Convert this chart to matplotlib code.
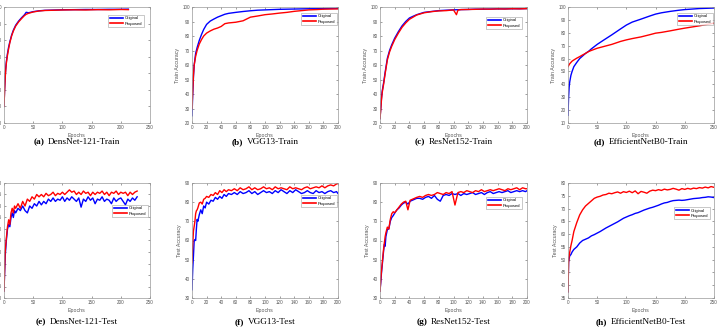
import matplotlib
matplotlib.use("Agg")
import matplotlib.pyplot as plt
import numpy as np

# ---------------- data ----------------
a_ep = [0,1,2,3,4,6,8,10,13,16,20,25,30,35,38,42,50,60,70,80,100,120,140,160,180,200,213]
a_orig = [40,50,58,63,67,72,76,79,83,86,89,91.5,93.5,95.3,96.8,96.5,97.2,97.7,98,98.1,98.3,98.4,98.5,98.5,98.6,98.6,98.7]
a_prop = [40,49,57,62,66,71,75,78.5,82.5,85.5,88.5,91,93,94.8,95.6,96.2,97,97.6,97.9,98,98.2,98.3,98.2,98.4,98.3,98.5,98.4]

b_ep = [0,1,2,3,5,7,10,13,16,20,25,30,35,40,45,50,60,70,80,90,100,110,120,130,140,150,160,170,180,190,200]
b_orig = [25,40,52,60,68,72,77,81,84.5,88,90.3,91.7,93,94,95,95.6,96.3,96.9,97.4,97.8,98,98.2,98.4,98.5,98.6,98.7,98.8,98.8,98.9,99,99]
b_prop = [30,42,53,60,66,70,74.5,77.5,80,82,83.5,84.7,85.5,86.6,88.5,89,89.5,90.5,93,93.8,94.7,95.2,95.8,96.3,97,97.5,98,98.2,98.5,98.6,98.7]

c_ep = [0,1,2,3,5,7,10,13,16,20,25,30,35,40,45,50,60,70,80,90,100,104,106,110,120,130,140,150,160,170,180,190,200]
c_orig = [23,30,37,42,48,55,64.6,70,74,78.5,83,87,90,92.4,93.6,94.7,96.3,96.9,97.5,97.8,98,98.1,98.1,98.2,98.3,98.5,98.5,98.6,98.7,98.7,98.8,98.8,98.9]
c_prop = [23,29,36,41,47,54,63.5,69,73,77.5,82,86,89,91.5,93,94.5,96,96.8,97.3,97.5,98,94.7,97.8,98.2,98.3,98.4,98.6,98.5,98.7,98.6,98.8,98.7,98.9]

d_ep = [0,1,2,3,5,7,10,15,20,25,30,35,40,50,60,75,90,100,110,125,140,150,160,175,190,200,225,250]
d_orig = [16,30,38,42,47,50,53.7,57,60,62,64,65.5,67.5,71,74,78.4,83,86,88.3,90.6,93,94.5,95.5,96.6,97.5,98,98.8,99.2]
d_prop = [53.7,54.5,55.3,56,57,58,58.9,60.3,61.5,62.8,64,65.4,66.3,68,69.2,71,73.3,74.5,75.5,76.8,78.5,79.7,80.3,81.5,82.8,83.6,85.4,87.5]

e_ep = [0,2,4,6,8,10,12,14,16,18,20,
        24,28,32,36,40,44,48,52,56,60,64,68,72,76,80,84,88,92,96,100,
        104,108,112,116,120,124,128,132,136,140,144,148,152,156,160,164,
        168,172,176,180,184,188,192,196,200,204,208,212,216,220,224,228]
e_orig = [43,58,65,70,72,71,75,77,75,78,77,
          79,78,80,78,77,80,79,81,80,82,80.5,82,81,83,82,83.5,82,83,82.5,84,
          82,83.5,82.5,84,83,82,83.5,79.5,83,82,84,82.5,83.5,81,83,82.5,
          84,82,83,82.5,81,83.5,82,83,83.5,82,80.5,83,82,83.5,82.5,84]
e_prop = [43,60,66,71,74,72,77,79,77,80,79,
          81,79,82,80,83,82,84,83,85,84,85,84,85.5,84.5,85,86,84.5,85.5,85,86,
          85,86,87,86,86.5,85,86,85,86.5,85.5,86,84.5,86,85,86,85.5,
          86.5,85,86,84.5,86,85.5,86.5,85,86,85.5,86,84.5,86,85,86,86.5]

f_ep = [0,1,2,3,4,5,6,7,8,10,12,14,16,18,20,
        23,26,29,32,35,38,41,44,47,50,
        54,58,62,66,70,74,78,82,86,90,94,98,102,106,110,114,118,122,126,
        130,134,138,142,146,150,154,158,162,166,170,174,178,182,186,190,194,198,200]
f_orig = [34.3,45,52,60,60.5,60,66,71,70,73.5,76,74,78,77,80,
          79,81,80.5,82.5,81.5,83,82,84,83,84.5,
          84,85,84,85.5,84.5,85,86,84.5,85.5,84,85,86,85,85.5,84.5,86,85,86.5,85.5,
          84.5,86,85,86.5,85.5,84.5,85,86,85,84.5,86,85,85.5,84.5,85.5,86,85,85.5,84.5]
f_prop = [48.3,58,65,67.4,70,74,75.5,76,77,79.6,80,79,81.5,82,83,
          82.5,84,83.5,85,84,86,85,86.5,85.5,86.5,
          86,87,86,87.5,86.5,87,88,86.5,87.5,86.5,87,88,87,87.5,86.5,88,87,87.5,87,
          86.5,88,87,87.5,87,86.5,87.5,88,87,87.5,88,87.5,88.5,87.5,88.5,89,88.5,89.5,89.7]

g_ep = f_ep
g_orig = [33.5,38,43,47,51,55,58,57,62,65.7,66,70,72,73,74.3,
          76,77,78.5,79.5,80,79,80.5,81,81.5,82,
          82,81.5,82.5,83,82,83.5,81.5,80.5,83.5,84,83.5,84.5,84,84.5,83.5,84.5,84,84.5,85,
          84,84.5,85,84,85,85.5,84.5,85,85.5,85,85.5,86,85,85.5,86,85.5,86,85.5,86]
g_prop = [33.5,39,44,48,52,56,59,62,64,67,66,71,74,75,74.5,
          76,77.5,79,80,80.5,76,81,81.5,82,82.5,
          83,82.5,83.5,84,83.5,84,85,84.5,84,85,84.5,85.5,78.5,85,85.5,85,86,85.5,85,
          86,85.5,86.5,85.5,86,86.5,86,86.5,87,86.5,86,87,86.5,87,87.5,86.5,87.5,87,87]

h_ep = [0,1,2,3,5,7,10,15,20,25,30,35,40,45,50,55,60,65,70,75,80,85,90,95,100,
        105,110,115,120,125,130,135,140,145,150,155,160,165,170,175,180,185,190,195,200,
        205,210,215,220,225,230,235,240,245,250]
h_orig = [37.4,49,50.5,51.5,52,53,54,55,56.5,57.5,58,58.5,59.3,59.8,60.4,61,61.7,62.4,63,63.6,64.2,64.8,65.5,66.2,66.7,
          67.2,67.6,68.1,68.4,68.9,69.4,69.8,70.2,70.5,70.9,71.3,71.8,72.2,72.4,72.8,73.1,73.2,73.3,73.2,73.3,
          73.5,73.7,73.9,74.0,74.1,74.3,74.4,74.6,74.5,74.3]
h_prop = [37.4,49,51.5,53,55.5,57.5,61,64.5,67.5,69.5,71,72,73,74,74.5,74.8,75.3,75.5,76,75.8,76.2,76.5,76,76.6,76.3,
          76.8,76.2,76.9,75.8,76.7,76.4,76.0,76.8,77.2,77,77.4,77.1,77.6,77.3,77.5,77.9,77.6,77.2,77.8,77.5,
          77.9,77.6,78,77.8,78.2,78,78.4,78.1,78.6,78.3]

panels = [
    ("(a)", "DensNet-121-Train", a_ep, a_orig, a_prop, (0, 250, 50), (30, 100, 10), "", (0.959, 0.931)),
    ("(b)", "VGG13-Train", b_ep, b_orig, b_prop, (0, 200, 20), (20, 100, 10), "Train Accuracy", (0.993, 0.948)),
    ("(c)", "ResNet152-Train", c_ep, c_orig, c_prop, (0, 200, 20), (20, 100, 10), "Train Accuracy", (0.966, 0.914)),
    ("(d)", "EfficientNetB0-Train", d_ep, d_orig, d_prop, (0, 250, 50), (10, 100, 10), "Train Accuracy", (0.993, 0.948)),
    ("(e)", "DensNet-121-Test", e_ep, e_orig, e_prop, (0, 250, 50), (40, 90, 5), "", (0.986, 0.809)),
    ("(f)", "VGG13-Test", f_ep, f_orig, f_prop, (0, 200, 20), (30, 90, 10), "Test Accuracy", (0.993, 0.896)),
    ("(g)", "ResNet152-Test", g_ep, g_orig, g_prop, (0, 200, 20), (30, 90, 10), "Test Accuracy", (0.966, 0.878)),
    ("(h)", "EfficientNetB0-Test", h_ep, h_orig, h_prop, (0, 250, 50), (35, 80, 5), "Test Accuracy", (0.973, 0.79)),
]

# ---------------- layout ----------------
W, H = 719, 329
fig = plt.figure(figsize=(W / 100, H / 100), dpi=100)
cols = [(4, 150), (192, 338), (380, 527), (568, 714)]
rows = [(7, 123), (183, 298)]
cap_y = [142, 322]

sans = ["Liberation Sans", "DejaVu Sans"]
serif = ["Liberation Serif", "DejaVu Serif"]

renderer = fig.canvas.get_renderer()
for i, (lab, name, ep, orig, prop, xl, yl, ylab, legpos) in enumerate(panels):
    r, c = divmod(i, 4)
    x0, x1 = cols[c]
    y0, y1 = rows[r]
    ax = fig.add_axes([x0 / W, 1 - y1 / H, (x1 - x0) / W, (y1 - y0) / H])
    ax.plot(ep, orig, color="#0000ff", lw=1.0, label="Original")
    ax.plot(ep, prop, color="#ff0000", lw=1.0, label="Proposed")
    ax.set_xlim(xl[0], xl[1])
    ax.set_ylim(yl[0], yl[1])
    ax.set_xticks(np.arange(xl[0], xl[1] + 0.1, xl[2]))
    ax.set_yticks(np.arange(yl[0], yl[1] + 0.1, yl[2]))
    ax.tick_params(direction="in", length=1.5, width=0.4, labelsize=3.3,
                   colors="#555555", top=True, right=True, pad=1.5)
    for lbl in ax.get_xticklabels() + ax.get_yticklabels():
        lbl.set_family(sans)
    for s in ax.spines.values():
        s.set_color("#999999")
        s.set_linewidth(0.5)
    ax.set_xlabel("Epochs", fontsize=3.8, family=sans, color="#555555", labelpad=2)
    if ylab:
        ax.set_ylabel(ylab, fontsize=3.8, family=sans, color="#555555", labelpad=2)
    leg = ax.legend(loc="upper right", bbox_to_anchor=legpos,
                    prop={"family": sans, "size": 3.0},
                    frameon=True, fancybox=False, handlelength=3.2,
                    borderpad=0.35, labelspacing=0.3, handletextpad=0.5,
                    borderaxespad=0)
    leg.get_frame().set_edgecolor("#888888")
    leg.get_frame().set_linewidth(0.4)
    for line in leg.get_lines():
        line.set_linewidth(1.2)

    # caption
    xc = (x0 + x1) / 2 / W
    yc = 1 - cap_y[r] / H
    t1 = fig.text(0, yc, lab, fontsize=6.7, family=serif, fontweight="bold", va="center", ha="left")
    t2 = fig.text(0, yc, name, fontsize=6.7, family=serif, va="center", ha="left")
    w1 = t1.get_window_extent(renderer).width / W
    w2 = t2.get_window_extent(renderer).width / W
    gap = 3.5 / W
    start = xc - (w1 + gap + w2) / 2
    t1.set_x(start)
    t2.set_x(start + w1 + gap)

fig.savefig("out.png", dpi=100)
